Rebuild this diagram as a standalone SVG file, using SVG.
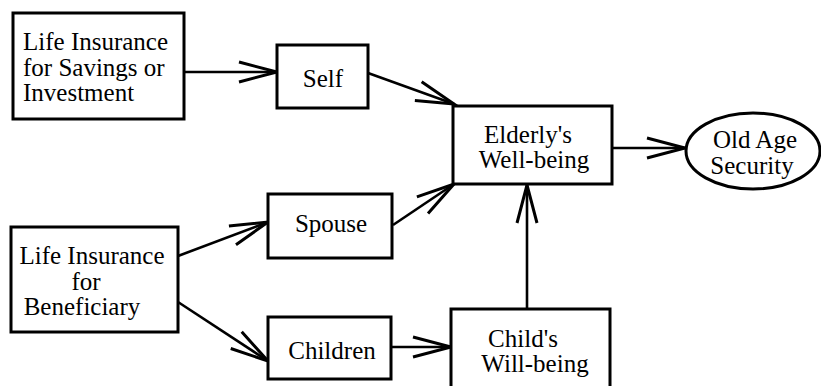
<svg xmlns="http://www.w3.org/2000/svg" width="821" height="386" viewBox="0 0 821 386">
<style>
  .box { fill: #fff; stroke: #000; stroke-width: 3; }
  .lbl { font-size: 25px; fill: #000; }
  .mid { text-anchor: middle; }
  .edge { stroke: #000; stroke-width: 2.6; fill: none; marker-end: url(#arrow); }
</style>
<defs>
  <marker id="arrow" markerUnits="userSpaceOnUse" viewBox="-42 -14 46 28" markerWidth="46" markerHeight="28" refX="0" refY="0" orient="auto" overflow="visible">
    <path d="M-38,-10 L0,0 L-38,10" fill="none" stroke="#000" stroke-width="3"/>
  </marker>
</defs>
<rect width="821" height="386" fill="#fff"/>
<g id="connectors">
  <line class="edge" x1="184" y1="72" x2="277" y2="72"/>
  <line class="edge" x1="368" y1="73" x2="454" y2="104"/>
  <line class="edge" x1="612" y1="148" x2="685" y2="148"/>
  <line class="edge" x1="178" y1="256" x2="268" y2="222"/>
  <line class="edge" x1="393" y1="225" x2="454" y2="184"/>
  <line class="edge" x1="178" y1="302" x2="268" y2="361"/>
  <line class="edge" x1="391" y1="347" x2="451" y2="347"/>
  <line class="edge" x1="527" y1="309" x2="527" y2="185"/>
</g>
<g font-family="'Liberation Serif', 'Times New Roman', 'DejaVu Serif', serif">
<g id="savings">
  <rect class="box" x="13" y="13" width="171" height="106"/>
  <text class="lbl" x="23" y="50">Life Insurance</text>
  <text class="lbl" x="23" y="76">for Savings or</text>
  <text class="lbl" x="23" y="101">Investment</text>
</g>
<g id="self">
  <rect class="box" x="277" y="45" width="91" height="63"/>
  <text class="lbl mid" x="323" y="87">Self</text>
</g>
<g id="elderly">
  <rect class="box" x="453" y="106" width="159" height="78"/>
  <text class="lbl mid" x="528" y="143">Elderly's</text>
  <text class="lbl mid" x="534" y="168">Well-being</text>
</g>
<g id="oldage">
  <ellipse class="box" cx="753" cy="151" rx="67" ry="38"/>
  <text class="lbl mid" x="755" y="148">Old Age</text>
  <text class="lbl mid" x="752" y="174">Security</text>
</g>
<g id="beneficiary">
  <rect class="box" x="11" y="227" width="167" height="105"/>
  <text class="lbl mid" x="92" y="264">Life Insurance</text>
  <text class="lbl mid" x="86" y="290">for</text>
  <text class="lbl mid" x="82" y="315">Beneficiary</text>
</g>
<g id="spouse">
  <rect class="box" x="268" y="194" width="124" height="64"/>
  <text class="lbl mid" x="331" y="232">Spouse</text>
</g>
<g id="children">
  <rect class="box" x="268" y="317" width="123" height="62"/>
  <text class="lbl mid" x="332" y="359">Children</text>
</g>
<g id="child">
  <rect class="box" x="451" y="309" width="159" height="90"/>
  <text class="lbl mid" x="523" y="347">Child's</text>
  <text class="lbl mid" x="535" y="372">Will-being</text>
</g>
</g>
</svg>
